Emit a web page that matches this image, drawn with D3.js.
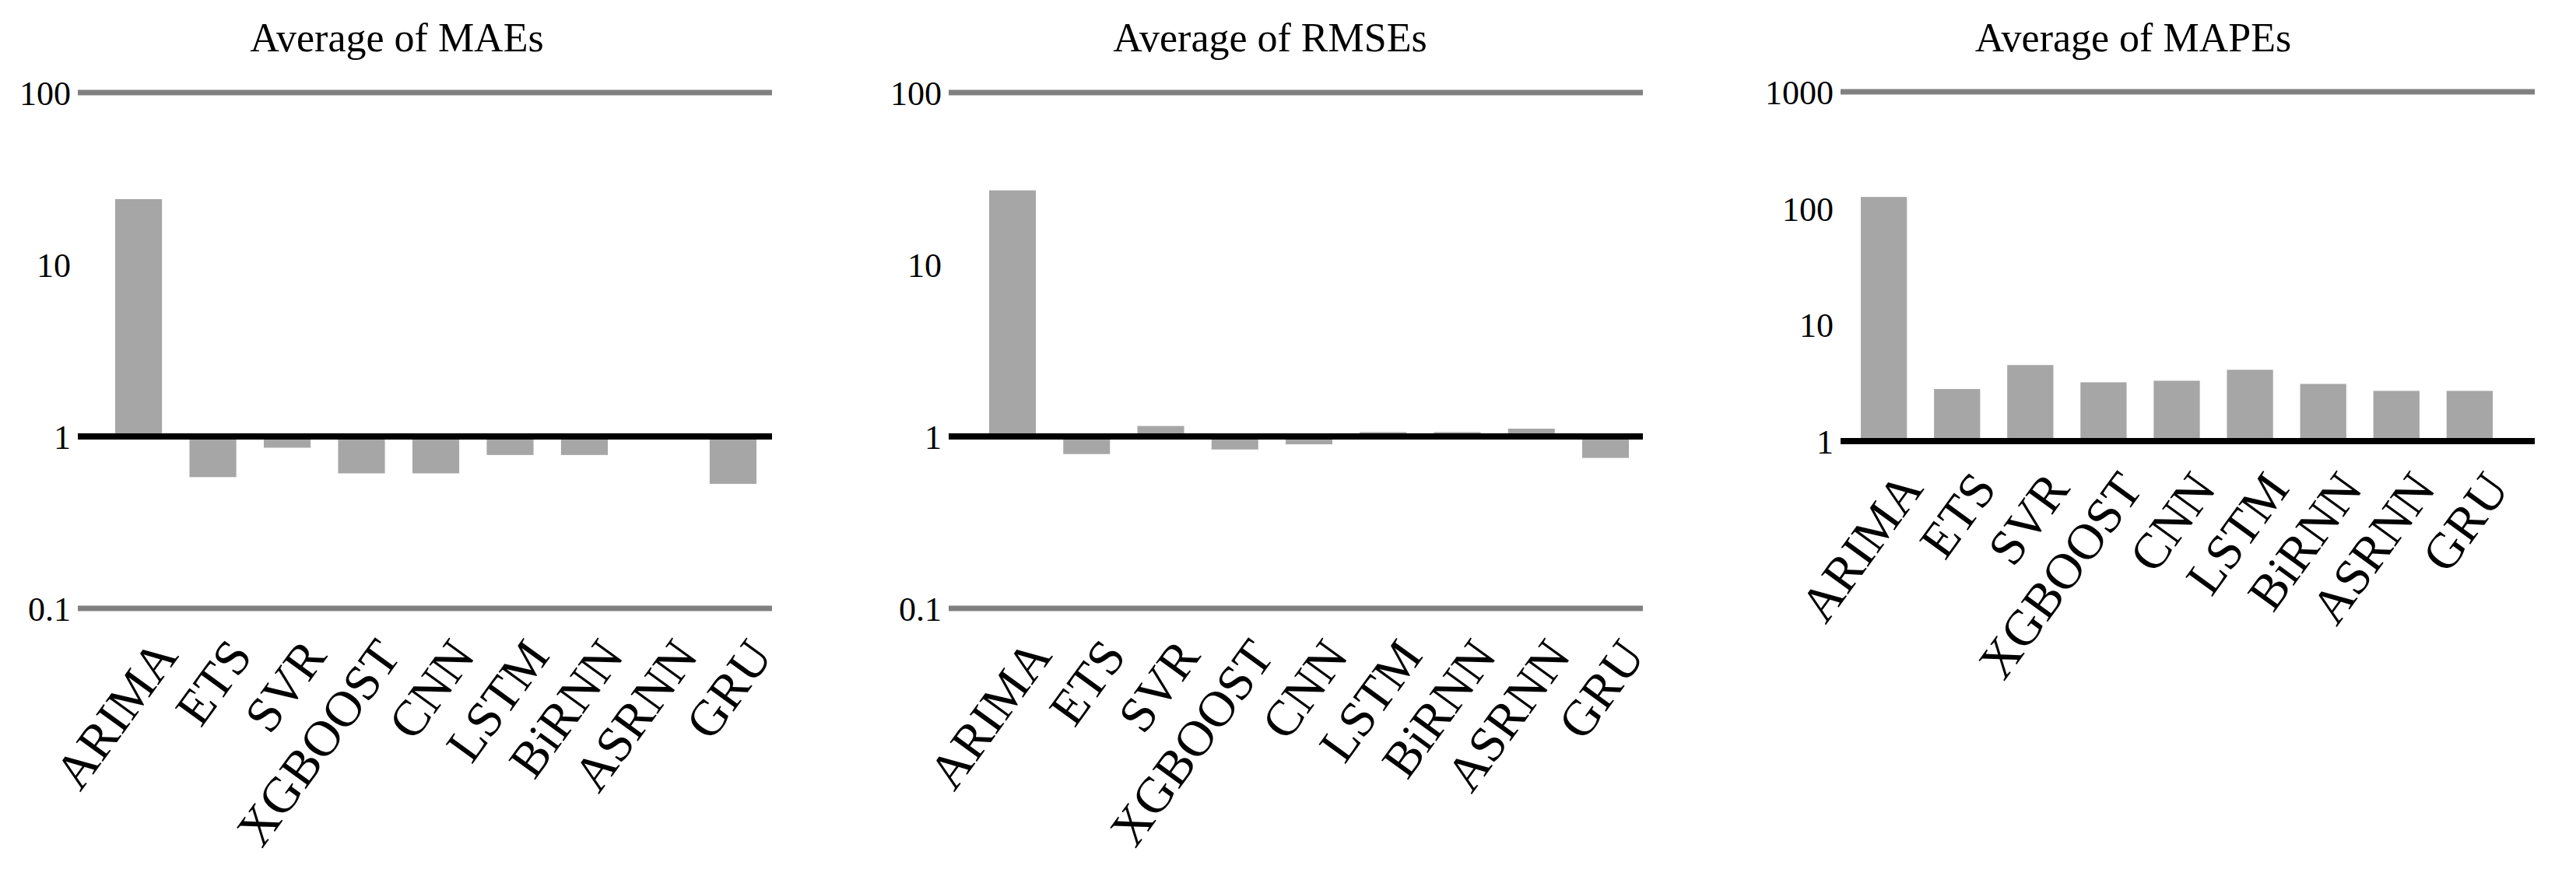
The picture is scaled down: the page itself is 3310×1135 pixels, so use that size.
<!DOCTYPE html>
<html><head><meta charset="utf-8">
<script src="https://cdn.jsdelivr.net/npm/d3@7"></script>
<style>body{margin:0;background:#fff}</style>
</head><body>
<script>
// model names shared by all three panels
const models = ["ARIMA", "ETS", "SVR", "XGBOOST", "CNN", "LSTM", "BiRNN", "ASRNN", "GRU"];
const maeValues = [24, 0.58, 0.86, 0.61, 0.61, 0.78, 0.78, 0.97, 0.53];
const rmseValues = [27, 0.79, 1.15, 0.84, 0.9, 1.06, 1.06, 1.11, 0.75];
const mapeValues = [125, 2.8, 4.5, 3.2, 3.3, 4.1, 3.1, 2.7, 2.7];
const maeTicks = [0.1, 1, 10, 100];
const rmseTicks = [0.1, 1, 10, 100];
const mapeTicks = [1, 10, 100, 1000];

const svg = d3.select("body").append("svg")
  .attr("width", 3310).attr("height", 1135)
  .style("font-family", "'Liberation Serif', 'Times New Roman', serif");

const panels = [
  {title: "Average of MAEs", tx: 510, values: maeValues, ticks: maeTicks, x0: 100, x1: 992, b0: 148, b1: 972, top: 119, bottom: 782},
  {title: "Average of RMSEs", tx: 1632, values: rmseValues, ticks: rmseTicks, x0: 1219, x1: 2111, b0: 1271, b1: 2093, top: 119, bottom: 782},
  {title: "Average of MAPEs", tx: 2741, values: mapeValues, ticks: mapeTicks, x0: 2365, x1: 3257, b0: 2391, b1: 3203, top: 118, bottom: 567}
];

panels.forEach(p => {
  const g = svg.append("g");
  const x = d3.scaleBand().domain(models).range([p.b0, p.b1]).paddingInner(0.37).paddingOuter(0);
  const y = d3.scaleLog().domain([p.ticks[0], p.ticks[p.ticks.length - 1]]).range([p.bottom, p.top]);
  const y1 = y(1);

  g.append("text")
    .attr("x", p.tx).attr("y", 66)
    .attr("text-anchor", "middle")
    .style("font-size", "52px")
    .text(p.title);

  // gray lines at the ends of the range; the baseline at 1 is drawn later in black
  const ends = [p.ticks[0], p.ticks[p.ticks.length - 1]].filter(t => t !== 1);
  g.selectAll(".grid").data(ends)
    .enter().append("line")
    .attr("x1", p.x0).attr("x2", p.x1)
    .attr("y1", d => y(d)).attr("y2", d => y(d))
    .attr("stroke", "#808080").attr("stroke-width", 7);

  const yAxis = g.append("g")
    .attr("transform", `translate(${p.x0 - 9},0)`)
    .call(d3.axisLeft(y).tickValues(p.ticks).tickFormat(d => String(d)).tickSize(0).tickPadding(0));
  yAxis.select(".domain").remove();
  yAxis.selectAll("text").style("font-size", "44px").style("font-family", "'Liberation Serif', serif")
    .attr("fill", "#000").attr("dy", "0.35em");

  g.selectAll(".bar").data(p.values).enter().append("rect")
    .attr("x", (d, i) => x(models[i]))
    .attr("width", x.bandwidth())
    .attr("y", d => Math.min(y(d), y1))
    .attr("height", d => Math.abs(y(d) - y1))
    .attr("fill", "#a6a6a6");

  g.append("line")
    .attr("x1", p.x0).attr("x2", p.x1)
    .attr("y1", y1).attr("y2", y1)
    .attr("stroke", "#000").attr("stroke-width", 8);

  g.selectAll(".xl").data(models).enter().append("text")
    .attr("transform", d => `translate(${x(d) + x.bandwidth() / 2 + 34},${p.bottom + 48}) rotate(-54)`)
    .attr("text-anchor", "end")
    .attr("dy", "0.35em")
    .style("font-size", "65px")
    .text(d => d);
});
</script>
</body></html>
